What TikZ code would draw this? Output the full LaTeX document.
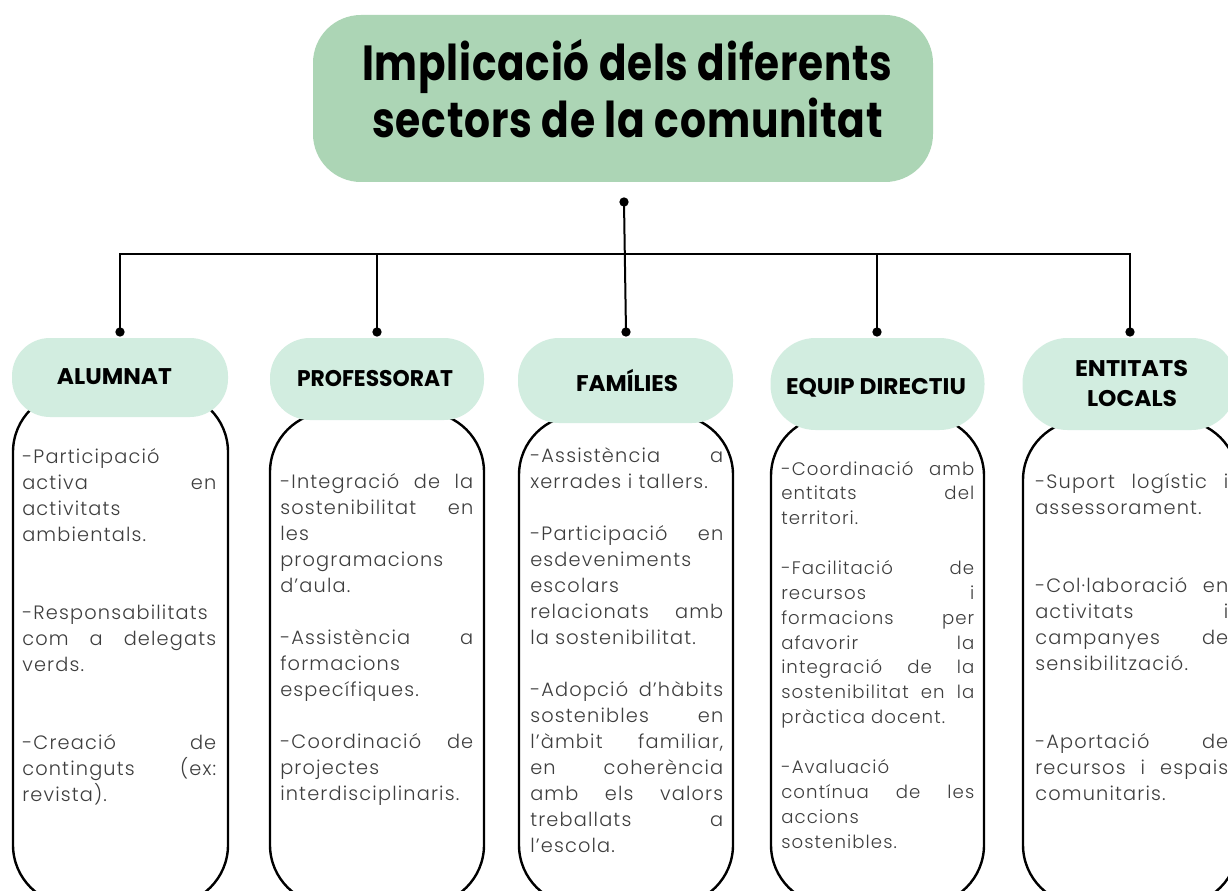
\documentclass[tikz,border=0pt]{standalone}
\usepackage{fontspec}
\usepackage{graphicx}
\IfFontExistsTF{Poppins Light}{\newfontfamily\bodyfont{Poppins Light}[LetterSpace=6]}{\newfontfamily\bodyfont{Poppins}[LetterSpace=6]}
\newfontfamily\headfont{Poppins}
\newfontfamily\titlefont{Poppins}[LetterSpace=2]
\definecolor{titlegreen}{RGB}{172,213,181}
\definecolor{pillgreen}{RGB}{210,237,224}
\definecolor{bodygray}{RGB}{62,62,62}
\newlength\PX \setlength\PX{0.75pt}
\newlength\bw
\newcommand\J[1]{\setbox0\hbox{#1}\ifdim\wd0>\bw\hbox to\bw{\resizebox{\bw}{\height}{#1}}\else\hbox to\bw{#1}\fi}
\newcommand\Lf[1]{\setbox0\hbox{#1}\ifdim\wd0>\bw\hbox to\bw{\resizebox{\bw}{\height}{#1}}\else\hbox to\bw{#1\hfil}\fi}
\newcommand\E{\hbox{}}
\newcommand\blk[3]{\vtop{\setlength\bw{#1\PX}\hsize=\bw\baselineskip=#2\relax\lineskiplimit=-\maxdimen\lineskip=0pt #3}}
\tikzset{
  conn/.style={line width=1.5pt, draw=black},
  dotn/.style={circle, fill=black, inner sep=0pt, minimum size=7pt},
  bodybox/.style={draw=black, line width=1.8pt, fill=white, rounded corners=45pt, inner sep=0pt, rectangle},
  pill/.style={fill=pillgreen, draw=none, inner sep=0pt, rectangle},
  titlebox/.style={fill=titlegreen, draw=none, inner sep=0pt, rectangle, rounded corners=36pt},
  ttext/.style={inner sep=0pt, anchor=base, font=\titlefont\bfseries\fontsize{37pt}{40pt}\selectfont},
  htext/.style={inner sep=0pt, anchor=base, font=\headfont\bfseries\fontsize{17pt}{18pt}\selectfont},
  btext/.style={inner sep=0pt, anchor=base west, text=bodygray, font=\bodyfont\fontsize{14.5pt}{19.5pt}\selectfont},
  btextsm/.style={btext, font=\bodyfont\fontsize{13.6pt}{18.65pt}\selectfont},
}
\begin{document}
\begin{tikzpicture}[x=0.75pt,y=-0.75pt]
\useasboundingbox (0,0) rectangle (1228,891);
\fill[white] (0,0) rectangle (1228,891);
\clip (0,0) rectangle (1228,891);

% title
\node[titlebox, minimum width=465pt, minimum height=125.25pt] (title) at (623,98.5) {};
\node[ttext] (t1) at (627,81) {\resizebox{530\PX}{\height}{Implicació dels diferents}};
\node[ttext] (t2) at (627.5,138) {\resizebox{511\PX}{\height}{sectors de la comunitat}};

% body boxes
\node[bodybox, minimum width=161.25pt, minimum height=384.75pt] (c1) at (120.5,648.5) {};
\node[bodybox, minimum width=160.5pt, minimum height=369.75pt] (c2) at (377,658.5) {};
\node[bodybox, minimum width=160.5pt, minimum height=367.5pt] (c3) at (626,660) {};
\node[bodybox, minimum width=159.75pt, minimum height=366.75pt] (c4) at (877.5,660.5) {};
\node[bodybox, minimum width=161.25pt, minimum height=363.75pt] (c5) at (1130.5,662.5) {};

% header pills
\node[pill, minimum width=162pt, minimum height=59.25pt, rounded corners=28.5pt] (h1) at (120,377.5) {};
\node[pill, minimum width=160.5pt, minimum height=61.5pt, rounded corners=30pt] (h2) at (377,379) {};
\node[pill, minimum width=161.25pt, minimum height=63.75pt, rounded corners=30.75pt] (h3) at (625.5,380.5) {};
\node[pill, minimum width=160.5pt, minimum height=69pt, rounded corners=33.75pt] (h4) at (877.5,384) {};
\node[pill, minimum width=160.5pt, minimum height=69pt, rounded corners=33.75pt] (h5) at (1129.5,384) {};

\node[htext] (l1) at (114.5,384) {\resizebox{115\PX}{\height}{ALUMNAT}};
\node[htext] (l2) at (375,386) {\resizebox{156\PX}{\height}{PROFESSORAT}};
\node[htext] (l3) at (627,391) {\resizebox{102\PX}{\height}{FAMÍLIES}};
\node[htext] (l4) at (876,394) {\resizebox{180\PX}{\height}{EQUIP DIRECTIU}};
\node[htext] (l5a) at (1131.5,376) {\resizebox{113\PX}{\height}{ENTITATS}};
\node[htext] (l5b) at (1132,406) {\resizebox{90\PX}{\height}{LOCALS}};

% connectors
\node[dotn] (d0) at (624,202) {};
\coordinate (bus) at (624,254);
\node[dotn] (p1) at (120,332) {};
\node[dotn] (p2) at (377,332) {};
\node[dotn] (p3) at (626,332) {};
\node[dotn] (p4) at (877,332) {};
\node[dotn] (p5) at (1130,332) {};
\draw[conn] (p1.center) -- (p1.center |- bus) -- (p5.center |- bus) -- (p5.center);
\draw[conn] (p2.center) -- (p2.center |- bus);
\draw[conn] (p4.center) -- (p4.center |- bus);
\draw[conn] (d0.center) -- (p3.center);

% body texts
\node[btext] (x1) at (22,463) {\blk{194}{19.5pt}{%
\Lf{-Participació}
\J{activa en}
\Lf{activitats}
\Lf{ambientals.}
\E\E
\Lf{-Responsabilitats}
\J{com a delegats}
\Lf{verds.}
\E\E
\J{-Creació de}
\J{continguts (ex:}
\Lf{revista).}}};

\node[btext] (x2) at (280,488) {\blk{193}{19.5pt}{%
\J{-Integració de la}
\J{sostenibilitat en}
\Lf{les}
\Lf{programacions}
\Lf{d’aula.}
\E
\J{-Assistència a}
\Lf{formacions}
\Lf{específiques.}
\E
\J{-Coordinació de}
\Lf{projectes}
\Lf{interdisciplinaris.}}};

\node[btext] (x3) at (530,462) {\blk{193}{19.5pt}{%
\J{-Assistència a}
\Lf{xerrades i tallers.}
\E
\J{-Participació en}
\Lf{esdeveniments}
\Lf{escolars}
\J{relacionats amb}
\Lf{la sostenibilitat.}
\E
\J{-Adopció d’hàbits}
\J{sostenibles en}
\J{l’àmbit familiar,}
\J{en coherència}
\J{amb els valors}
\J{treballats a}
\Lf{l’escola.}}};

\node[btextsm] (x4) at (781,475) {\blk{193}{18.65pt}{%
\J{-Coordinació amb}
\J{entitats del}
\Lf{territori.}
\E
\J{-Facilitació de}
\J{recursos i}
\J{formacions per}
\J{afavorir la}
\J{integració de la}
\J{sostenibilitat en la}
\Lf{pràctica docent.}
\E
\Lf{-Avaluació}
\J{contínua de les}
\Lf{accions}
\Lf{sostenibles.}}};

\node[btext] (x5) at (1035,488) {\blk{193}{19.5pt}{%
\J{-Suport logístic i}
\Lf{assessorament.}
\E\E
\J{-Col·laboració en}
\J{activitats i}
\J{campanyes de}
\Lf{sensibilització.}
\E\E
\J{-Aportació de}
\J{recursos i espais}
\Lf{comunitaris.}}};
\end{tikzpicture}
\end{document}
